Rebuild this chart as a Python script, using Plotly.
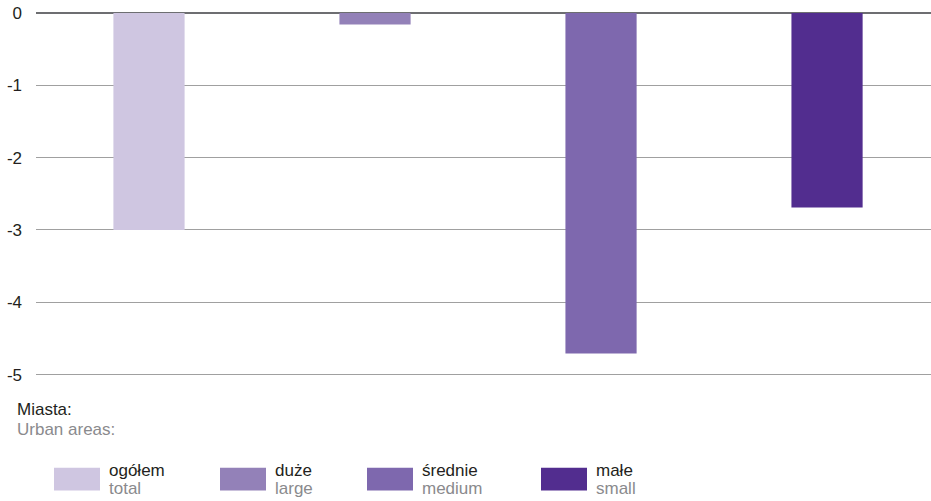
import plotly.graph_objects as go

categories = ["ogółem", "duże", "średnie", "małe"]
categories_en = ["total", "large", "medium", "small"]
values = [-3.0, -0.16, -4.71, -2.69]
colors = ["#cfc6e1", "#9381b8", "#7e68ae", "#522d8f"]
tick_vals = [0, -1, -2, -3, -4, -5]
tick_text = ["0", "-1", "-2", "-3", "-4", "-5"]

W, H = 931, 501
TOP, BOTTOM = 13, 374.7
YMIN, YMAX = -5.02, 0
FONT = "Liberation Sans, Arial, sans-serif"
FS = 17

UNIT = (BOTTOM - TOP) / 5.0
PLOT_BOTTOM = TOP + (YMAX - YMIN) * UNIT


def py(ypix):
    return (PLOT_BOTTOM - ypix) / (PLOT_BOTTOM - TOP)


def px(xpix, left=36, right=931):
    return (xpix - left) / (right - left)


fig = go.Figure()
fig.add_trace(go.Bar(
    x=categories, y=values, marker=dict(color=colors, line=dict(width=0)),
    width=0.315, showlegend=False, hoverinfo="x+y",
))

shapes = []
annotations = [
    dict(text="Miasta:", x=px(15), y=py(410), xref="paper", yref="paper",
         xanchor="left", yanchor="middle", showarrow=False,
         font=dict(family=FONT, size=FS, color="#231f20")),
    dict(text="Urban areas:", x=px(15), y=py(430), xref="paper", yref="paper",
         xanchor="left", yanchor="middle", showarrow=False,
         font=dict(family=FONT, size=FS, color="#8a8a8d")),
]
swatch_x = [54, 220, 367, 541]
for i, (c, en, col) in enumerate(zip(categories, categories_en, colors)):
    x0 = swatch_x[i]
    shapes.append(dict(type="rect", xref="paper", yref="paper",
                       x0=px(x0), x1=px(x0 + 46), y0=py(490.7), y1=py(468),
                       fillcolor=col, line=dict(width=0)))
    annotations.append(dict(text=c, x=px(x0 + 53), y=py(471), xref="paper", yref="paper",
                            xanchor="left", yanchor="middle", showarrow=False,
                            font=dict(family=FONT, size=FS, color="#231f20")))
    annotations.append(dict(text=en, x=px(x0 + 53), y=py(489), xref="paper", yref="paper",
                            xanchor="left", yanchor="middle", showarrow=False,
                            font=dict(family=FONT, size=FS, color="#8a8a8d")))

fig.update_layout(
    width=W, height=H,
    margin=dict(l=36, r=0, t=TOP, b=H - PLOT_BOTTOM),
    plot_bgcolor="white", paper_bgcolor="white",
    font=dict(family=FONT, size=FS, color="#231f20"),
    xaxis=dict(range=[-0.5, 3.46], showticklabels=False, showgrid=False,
               zeroline=False, showline=False, ticks=""),
    yaxis=dict(range=[YMIN, YMAX], tickvals=tick_vals, ticktext=tick_text,
               showgrid=True, gridcolor="#a0a0a0", gridwidth=1,
               zeroline=True, zerolinecolor="#6d6e71", zerolinewidth=2,
               showline=False, ticks="", ticklabelstandoff=13,
               tickfont=dict(family=FONT, size=FS, color="#231f20")),
    shapes=shapes, annotations=annotations,
    bargap=0.685,
)

fig.write_html("out.html", config={"displayModeBar": False},
               post_script="document.body.style.margin='0';document.body.style.padding='0';")
